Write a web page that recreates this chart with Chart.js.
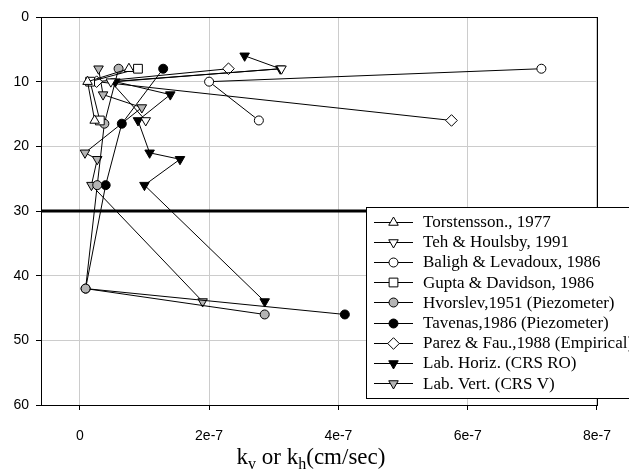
<!DOCTYPE html>
<html>
<head>
<meta charset="utf-8">
<script src="https://cdn.jsdelivr.net/npm/chart.js@4.4.0/dist/chart.umd.min.js"></script>
<style>
  html, body { margin: 0; padding: 0; background: #fff; }
</style>
</head>
<body>
<canvas id="chart" width="629" height="474"></canvas>
<script>
// k (cm/sec) against depth
const torstDepth = [8, 10, 16];
const torstK = [0.76e-7, 0.12e-7, 0.23e-7];

const tehDepth = [8, 10, 16];
const tehK = [3.12e-7, 0.48e-7, 1.02e-7];

const balighDepth = [8, 10, 16];
const balighK = [7.14e-7, 2.0e-7, 2.77e-7];

const guptaDepth = [8, 10, 16];
const guptaK = [0.9e-7, 0.16e-7, 0.31e-7];

const hvorslevDepth = [8, 16.5, 26, 42, 46];
const hvorslevK = [0.6e-7, 0.38e-7, 0.27e-7, 0.09e-7, 2.86e-7];

const tavenasDepth = [8, 16.5, 26, 42, 46];
const tavenasK = [1.29e-7, 0.65e-7, 0.4e-7, 0.09e-7, 4.1e-7];

const parezDepth = [8, 10, 16];
const parezK = [2.3e-7, 0.26e-7, 5.75e-7];

const labHDepth = [6, 8, 10, 12, 16, 21, 22, 26, 44];
const labHK = [2.55e-7, 3.1e-7, 0.55e-7, 1.4e-7, 0.9e-7, 1.08e-7, 1.55e-7, 1.0e-7, 2.86e-7];

const labVDepth = [8, 12, 14, 21, 22, 26, 44];
const labVK = [0.29e-7, 0.36e-7, 0.96e-7, 0.08e-7, 0.27e-7, 0.18e-7, 1.9e-7];

// horizontal reference line at 30 m
const refDepth = 30;

const xTickValues = [0, 2e-7, 4e-7, 6e-7, 8e-7];
const xTickLabels = ['0', '2e-7', '4e-7', '6e-7', '8e-7'];
const xMin = -0.6e-7, xMax = 8e-7;
const yMin = 0, yMax = 60;

const GREY = '#b4b4b4';

function pts(xs, ys) {
  return xs.map((x, i) => ({ x: x, y: ys[i] }));
}

// marker: circle, up, down, square, diamond
function series(label, xs, ys, marker, fill) {
  const map = {
    circle: { pointStyle: 'circle', r: 4.5, rot: 0 },
    up: { pointStyle: 'triangle', r: 5.5, rot: 0 },
    down: { pointStyle: 'triangle', r: 5.5, rot: 180 },
    square: { pointStyle: 'rect', r: 6.2, rot: 0 },
    diamond: { pointStyle: 'rectRot', r: 5.8, rot: 0 }
  };
  const m = map[marker];
  return {
    label: label,
    marker: marker,
    data: pts(xs, ys),
    showLine: true,
    borderColor: '#000',
    borderWidth: 1,
    backgroundColor: fill,
    pointStyle: m.pointStyle,
    pointRadius: m.r,
    pointRotation: m.rot,
    pointBorderColor: '#000',
    pointBackgroundColor: fill,
    pointBorderWidth: 1
  };
}

const datasets = [
  series('Torstensson., 1977', torstK, torstDepth, 'up', '#fff'),
  series('Teh & Houlsby, 1991', tehK, tehDepth, 'down', '#fff'),
  series('Baligh & Levadoux, 1986', balighK, balighDepth, 'circle', '#fff'),
  series('Gupta & Davidson, 1986', guptaK, guptaDepth, 'square', '#fff'),
  series('Hvorslev,1951 (Piezometer)', hvorslevK, hvorslevDepth, 'circle', GREY),
  series('Tavenas,1986 (Piezometer)', tavenasK, tavenasDepth, 'circle', '#000'),
  series('Parez & Fau.,1988 (Empirical)', parezK, parezDepth, 'diamond', '#fff'),
  series('Lab. Horiz. (CRS RO)', labHK, labHDepth, 'down', '#000'),
  series('Lab. Vert. (CRS V)', labVK, labVDepth, 'down', GREY),
  {
    label: 'ref',
    noLegend: true,
    data: [{ x: xMin, y: refDepth }, { x: xMax, y: refDepth }],
    showLine: true,
    borderColor: '#000',
    borderWidth: 3,
    pointRadius: 0,
    order: 5
  }
];

function drawMarker(ctx, marker, x, y, fill) {
  ctx.save();
  ctx.beginPath();
  if (marker === 'circle') {
    ctx.arc(x, y, 4.5, 0, Math.PI * 2);
  } else if (marker === 'up' || marker === 'down') {
    const r = 5.5;
    let a = marker === 'up' ? 0 : Math.PI;
    ctx.moveTo(x + Math.sin(a) * r, y - Math.cos(a) * r);
    a += 2 * Math.PI / 3;
    ctx.lineTo(x + Math.sin(a) * r, y - Math.cos(a) * r);
    a += 2 * Math.PI / 3;
    ctx.lineTo(x + Math.sin(a) * r, y - Math.cos(a) * r);
    ctx.closePath();
  } else if (marker === 'square') {
    const s = 6.2 * Math.SQRT1_2;
    ctx.rect(x - s, y - s, 2 * s, 2 * s);
  } else if (marker === 'diamond') {
    const r = 5.8;
    ctx.moveTo(x, y - r);
    ctx.lineTo(x + r, y);
    ctx.lineTo(x, y + r);
    ctx.lineTo(x - r, y);
    ctx.closePath();
  }
  ctx.fillStyle = fill;
  ctx.fill();
  ctx.lineWidth = 1;
  ctx.strokeStyle = '#000';
  ctx.stroke();
  ctx.restore();
}

const framePlugin = {
  id: 'frame',
  afterDatasetsDraw(chart) {
    const { ctx, chartArea: a } = chart;
    ctx.save();
    ctx.strokeStyle = '#000';
    ctx.lineWidth = 1;
    ctx.strokeRect(Math.round(a.left) + 0.5, Math.round(a.top) + 0.5,
      Math.round(a.right - a.left), Math.round(a.bottom - a.top));
    ctx.restore();
  }
};

const legendPlugin = {
  id: 'boxLegend',
  afterDraw(chart) {
    const ctx = chart.ctx;
    const items = chart.data.datasets.filter(d => !d.noLegend);
    const left = 366.5, top = 207.5, w = 300, h = 191;
    ctx.save();
    ctx.fillStyle = '#fff';
    ctx.fillRect(left, top, w, h);
    ctx.strokeStyle = '#000';
    ctx.lineWidth = 1;
    ctx.strokeRect(left, top, w, h);
    ctx.font = '17px "Liberation Serif", "Times New Roman", serif';
    ctx.textBaseline = 'middle';
    items.forEach((d, i) => {
      const y = top + 14 + i * 20.2;
      ctx.beginPath();
      ctx.moveTo(374, Math.round(y) + 0.5);
      ctx.lineTo(413, Math.round(y) + 0.5);
      ctx.strokeStyle = '#000';
      ctx.lineWidth = 1;
      ctx.stroke();
      drawMarker(ctx, d.marker, 393.5, Math.round(y) + 0.5, d.pointBackgroundColor);
      ctx.fillStyle = '#000';
      ctx.fillText(d.label, 423, y + 1);
    });
    ctx.restore();
  }
};

const xTitlePlugin = {
  id: 'xTitle',
  afterDraw(chart) {
    const ctx = chart.ctx;
    const big = '23px "Liberation Serif", "Times New Roman", serif';
    const small = '16px "Liberation Serif", "Times New Roman", serif';
    const parts = [
      { t: 'k', f: big, dy: 0 },
      { t: 'v', f: small, dy: 5 },
      { t: ' or k', f: big, dy: 0 },
      { t: 'h', f: small, dy: 5 },
      { t: '(cm/sec)', f: big, dy: 0 }
    ];
    ctx.save();
    let total = 0;
    parts.forEach(p => { ctx.font = p.f; p.w = ctx.measureText(p.t).width; total += p.w; });
    let x = 311 - total / 2;
    const base = 464;
    ctx.fillStyle = '#000';
    ctx.textBaseline = 'alphabetic';
    parts.forEach(p => {
      ctx.font = p.f;
      ctx.fillText(p.t, x, base + p.dy);
      x += p.w;
    });
    ctx.restore();
  }
};

new Chart(document.getElementById('chart'), {
  type: 'scatter',
  data: { datasets: datasets },
  options: {
    responsive: false,
    animation: false,
    layout: { padding: { left: 0, right: 32, top: 17, bottom: 0 } },
    plugins: {
      legend: { display: false },
      tooltip: { enabled: false }
    },
    scales: {
      x: {
        type: 'linear',
        min: xMin,
        max: xMax,
        afterBuildTicks: scale => {
          scale.ticks = xTickValues.map(v => ({ value: v }));
        },
        afterFit: scale => { scale.height = 69; },
        ticks: {
          padding: 18,
          color: '#000',
          font: { family: '"Liberation Sans", Arial, sans-serif', size: 14 },
          callback: (v, i) => xTickLabels[i]
        },
        grid: { color: '#cccccc', tickColor: '#000', tickLength: 5, lineWidth: 1 },
        border: { display: false }
      },
      y: {
        type: 'linear',
        reverse: true,
        min: yMin,
        max: yMax,
        afterFit: scale => { scale.width = 41; },
        ticks: {
          stepSize: 10,
          padding: 7,
          color: '#000',
          font: { family: '"Liberation Sans", Arial, sans-serif', size: 14 }
        },
        grid: { color: '#cccccc', tickColor: '#000', tickLength: 5, lineWidth: 1 },
        border: { display: false }
      }
    }
  },
  plugins: [framePlugin, legendPlugin, xTitlePlugin]
});
</script>
</body>
</html>
